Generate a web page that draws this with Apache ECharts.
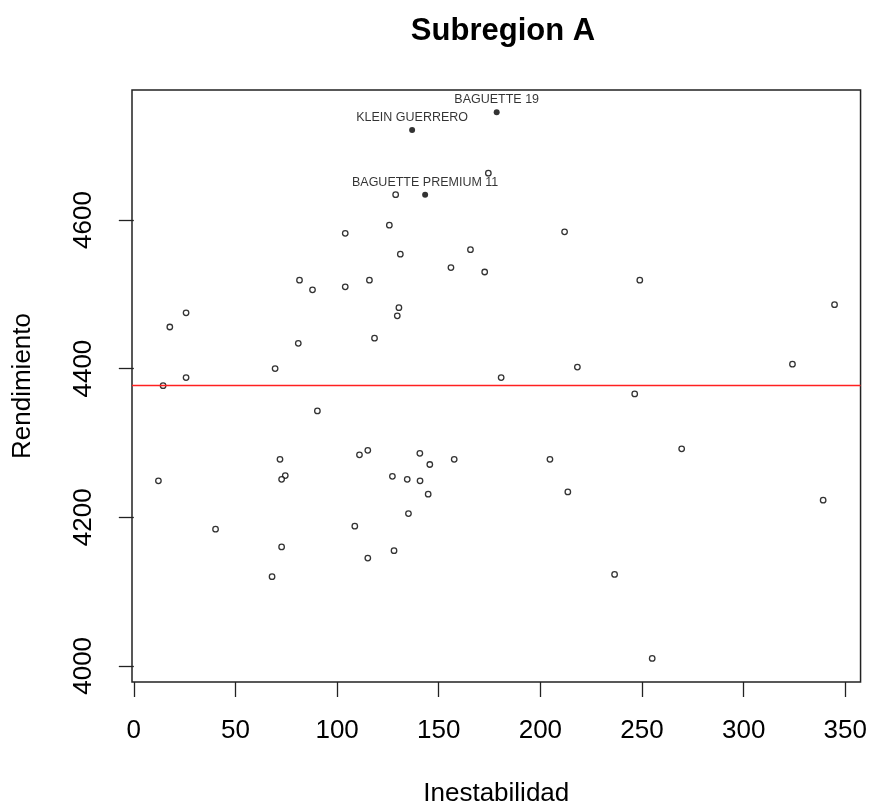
<!DOCTYPE html>
<html><head><meta charset="utf-8">
<script src="https://cdn.jsdelivr.net/npm/echarts@6/dist/echarts.min.js"></script>
<style>html,body{margin:0;padding:0;background:#fff}#c{width:870px;height:812px}</style>
</head><body><div id="c"></div>
<script>
// Open points (genotypes)
const inestabilidad = [104.0, 81.5, 87.9, 104.0, 115.9, 174.4, 128.8, 125.7, 211.9, 131.1,
  165.6, 156.0, 172.6, 248.9, 25.7, 17.7, 80.9, 118.4, 69.5, 25.7,
  14.4, 90.3, 71.9, 115.1, 111.0, 12.1, 74.5, 72.7, 130.4, 129.6,
  180.7, 218.2, 140.7, 145.6, 157.6, 204.7, 127.2, 134.5, 140.8, 144.8,
  213.5, 344.7, 324.0, 246.4, 269.5, 339.1, 40.2, 72.7, 68.0, 108.7,
  115.1, 128.0, 135.1, 236.5, 255.0];
const rendimiento = [4582, 4519, 4506, 4510, 4519, 4663, 4634, 4593, 4584, 4554,
  4560, 4536, 4530, 4519, 4475, 4456, 4434, 4441, 4400, 4388,
  4377, 4343, 4278, 4290, 4284, 4249, 4256, 4251, 4482, 4471,
  4388, 4402, 4286, 4271, 4278, 4278, 4255, 4251, 4249, 4231,
  4234, 4486, 4406, 4366, 4292, 4223, 4184, 4160, 4120, 4188,
  4145, 4155, 4205, 4123, 4010];
// Highlighted genotypes
const destacadosNombres = ["BAGUETTE 19", "KLEIN GUERRERO", "BAGUETTE PREMIUM 11"];
const destacadosX = [178.5, 136.9, 143.3];
const destacadosY = [4745, 4721, 4634];
// Mean yield line
const mediaRendimiento = 4377;
// Ticks
const xTicks = [0, 50, 100, 150, 200, 250, 300, 350];
const yTicks = [4000, 4200, 4400, 4600];

const FONT = "Liberation Sans, Arial, sans-serif";
const chart = echarts.init(document.getElementById('c'), null, {renderer: 'canvas'});
chart.setOption({
  animation: false,
  backgroundColor: '#ffffff',
  title: {
    text: 'Subregion A',
    left: 498, textAlign: 'center', top: 11,
    textStyle: {fontFamily: FONT, fontSize: 31, fontWeight: 'bold', color: '#000'}
  },
  grid: {
    left: 132, right: 5, top: 90, bottom: 123,
    show: true, borderColor: '#222', borderWidth: 1.5, backgroundColor: 'transparent'
  },
  xAxis: {
    type: 'value', min: -0.9, max: 357.5,
    name: 'Inestabilidad', nameLocation: 'middle', nameGap: 99,
    nameTextStyle: {fontFamily: FONT, fontSize: 26, color: '#000'},
    axisLine: {show: false},
    axisTick: {show: true, inside: false, length: 15, customValues: xTicks, lineStyle: {color: '#222', width: 1.3}},
    axisLabel: {show: true, customValues: xTicks, margin: 36, fontFamily: FONT, fontSize: 26, color: '#000',
      formatter: v => String(v)},
    splitLine: {show: false}
  },
  yAxis: {
    type: 'value', min: 3978.3, max: 4774.9,
    name: 'Rendimiento', nameLocation: 'middle', nameGap: 96,
    nameTextStyle: {fontFamily: FONT, fontSize: 26, color: '#000'},
    axisLine: {show: false},
    axisTick: {show: true, inside: false, length: 15, customValues: yTicks, lineStyle: {color: '#222', width: 1.3}},
    axisLabel: {show: true, customValues: yTicks, rotate: 90, margin: 35, fontFamily: FONT, fontSize: 26, color: '#000',
      formatter: v => String(v)},
    splitLine: {show: false}
  },
  series: [
    {
      type: 'scatter',
      data: inestabilidad.map((x, i) => [x, rendimiento[i]]),
      symbol: 'circle', symbolSize: 5.5,
      itemStyle: {color: '#ffffff', borderColor: '#000', borderWidth: 1.3},
      markLine: {
        silent: true, symbol: ['none', 'none'],
        label: {show: false},
        lineStyle: {color: '#ff2020', width: 1.4, type: 'solid'},
        data: [{yAxis: mediaRendimiento}]
      },
      z: 3
    },
    {
      type: 'scatter',
      data: destacadosX.map((x, i) => ({value: [x, destacadosY[i]], name: destacadosNombres[i]})),
      symbol: 'circle', symbolSize: 6,
      itemStyle: {color: '#000', borderColor: '#000', borderWidth: 0},
      label: {show: true, position: 'top', distance: 3, formatter: p => p.name,
        fontFamily: FONT, fontSize: 12.5, color: '#000'},
      z: 4
    }
  ]
});
</script></body></html>
